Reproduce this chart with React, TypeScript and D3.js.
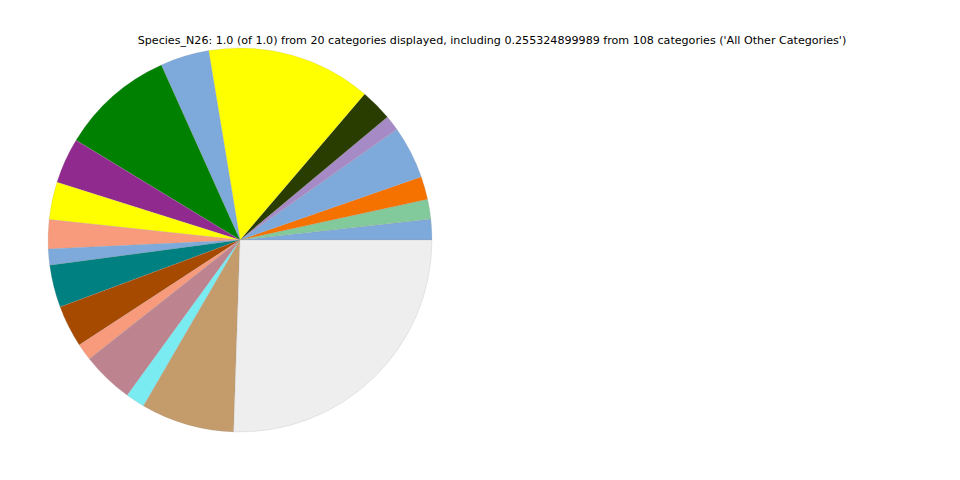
import React from "react";
import * as d3 from "d3";

const categories = [
  "C1", "C2", "C3", "C4", "C5", "C6", "C7", "C8", "C9", "C10",
  "C11", "C12", "C13", "C14", "C15", "C16", "C17", "C18", "C19", "All Other Categories",
];
const values = [
  0.0174, 0.0166, 0.0195, 0.0443, 0.0129, 0.0269, 0.1386, 0.0411, 0.0958, 0.0383,
  0.0317, 0.0244, 0.0136, 0.0358, 0.0353, 0.0144, 0.0436, 0.0161, 0.0786, 0.255324899989,
];
const colors = [
  "#7ea9db", "#82c99b", "#f57200", "#7ea9db", "#a68ac6", "#2a3d00", "#ffff00", "#7ea9db", "#008000", "#912a8e",
  "#ffff00", "#f89a7c", "#7ea9db", "#008080", "#a64a00", "#f89a7c", "#bd838f", "#7aebf1", "#c49c6c", "#eeeeee",
];
const title =
  "Species_N26: 1.0 (of 1.0) from 20 categories displayed, including 0.255324899989 from 108 categories ('All Other Categories')";

export default function App() {
  const width = 960;
  const height = 480;
  const cx = 240;
  const cy = 240;
  const r = 192;
  const total = d3.sum(values);
  const pie = d3
    .pie<number>()
    .sort(null)
    .value((d) => d)
    .startAngle(Math.PI / 2)
    .endAngle(Math.PI / 2 - 2 * Math.PI * (total >= 1 ? 1 : total));
  const arcs = pie(values);
  const arc = d3.arc<d3.PieArcDatum<number>>().innerRadius(0).outerRadius(r);
  return (
    <svg
      width={width}
      height={height}
      style={{ position: "absolute", left: 0, top: 0, background: "#fff" }}
    >
      <g transform={`translate(${cx},${cy})`}>
        {arcs.map((a, i) => (
          <path
            key={categories[i]}
            d={arc(a) || ""}
            fill={colors[i]}
            stroke="#999"
            strokeWidth={0.3}
            strokeOpacity={0.6}
          />
        ))}
      </g>
      <text
        x={492}
        y={43.5}
        textAnchor="middle"
        fontFamily="DejaVu Sans"
        fontSize={11.12}
        fill="#000"
      >
        {title}
      </text>
    </svg>
  );
}
